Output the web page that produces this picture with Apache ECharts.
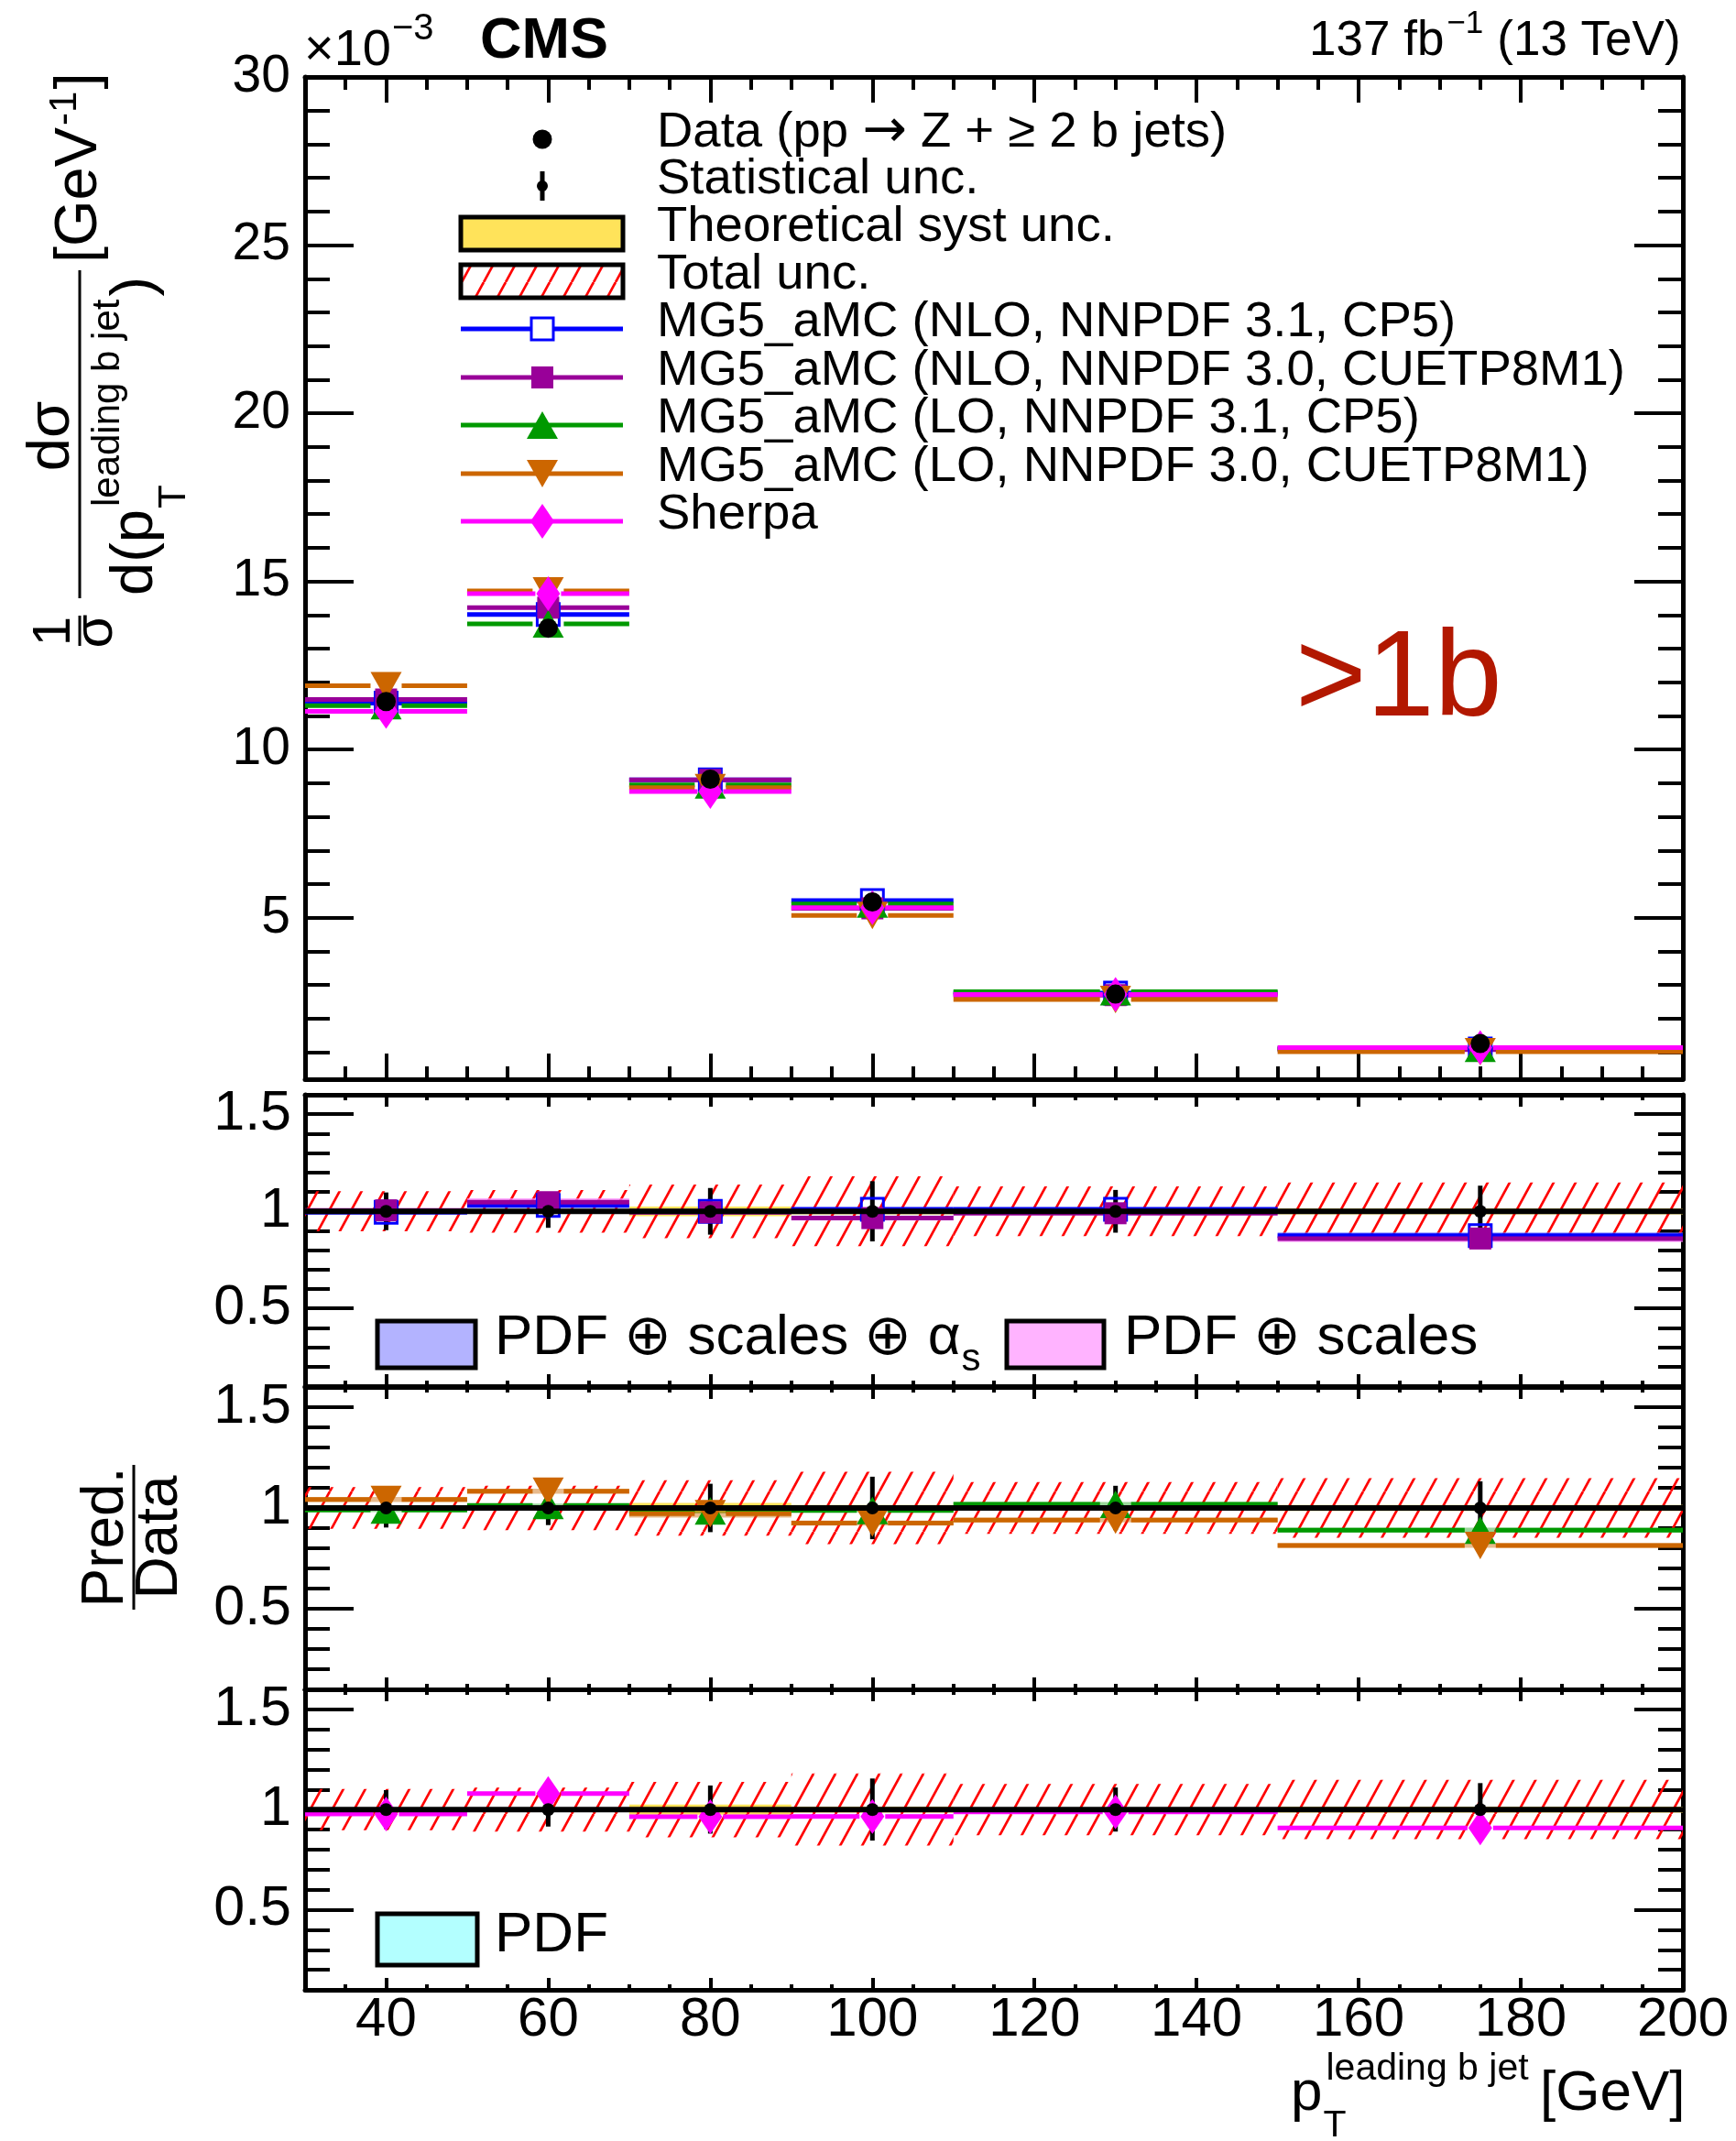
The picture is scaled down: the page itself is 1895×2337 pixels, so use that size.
<!DOCTYPE html>
<html>
<head>
<meta charset="utf-8">
<script src="https://cdn.jsdelivr.net/npm/echarts@6.0.0/dist/echarts.min.js"></script>
<style>
html, body { margin:0; padding:0; background:#ffffff; }
#chart { width:1895px; height:2337px; }
</style>
</head>
<body>
<div id="chart"></div>
<script>
// ================= DATA =================
const binEdges   = [30, 50, 70, 90, 110, 150, 200];
const binCenters = [40, 60, 80, 100, 130, 175];
const xTickValues  = [40, 60, 80, 100, 120, 140, 160, 180, 200];
const xMinorValues = [35, 45, 50, 55, 65, 70, 75, 85, 90, 95, 105, 110, 115, 125, 130, 135, 145, 150, 155, 165, 170, 175, 185, 190, 195];
const yTopTicks    = [5, 10, 15, 20, 25, 30];
const yTopMinor    = [1, 2, 3, 4, 6, 7, 8, 9, 11, 12, 13, 14, 16, 17, 18, 19, 21, 22, 23, 24, 26, 27, 28, 29];
const yRatioTicks  = [0.5, 1, 1.5];
const yRatioMinor  = [0.2, 0.3, 0.4, 0.6, 0.7, 0.8, 0.9, 1.1, 1.2, 1.3, 1.4];
const yTopRange    = [0.2, 30];
const yRatioRange  = [0.1, 1.6];

// normalized cross sections, units of 1e-3 GeV^-1
const dataXsec   = [11.43, 13.61, 9.12, 5.47, 2.73, 1.26];
const nlo31Xsec  = [11.38, 14.02, 9.10, 5.51, 2.76, 1.10];
const nlo30Xsec  = [11.49, 14.22, 9.10, 5.28, 2.70, 1.08];
const lo31Xsec   = [11.31, 13.74, 8.95, 5.41, 2.80, 1.12];
const lo30Xsec   = [11.90, 14.72, 8.87, 5.07, 2.57, 1.02];
const sherpaXsec = [11.14, 14.64, 8.75, 5.30, 2.72, 1.14];

// prediction / data
const dataRatio   = [1, 1, 1, 1, 1, 1];
const nlo31Ratio  = [0.995, 1.030, 1.000, 1.010, 1.010, 0.875];
const nlo30Ratio  = [1.005, 1.047, 0.995, 0.965, 0.990, 0.860];
const lo31Ratio   = [0.990, 1.012, 0.985, 0.988, 1.018, 0.890];
const lo30Ratio   = [1.042, 1.083, 0.972, 0.925, 0.940, 0.814];
const sherpaRatio = [0.978, 1.080, 0.964, 0.966, 0.988, 0.908];

// relative uncertainties of the data
const statUnc  = [0.097, 0.085, 0.120, 0.155, 0.110, 0.132];
const totalUnc = [0.103, 0.110, 0.138, 0.180, 0.128, 0.148];
const theoUnc  = [0.010, 0.010, 0.025, 0.015, 0.010, 0.015];

// theory band half widths on the ratio
const nlo31Band = [0.008, 0.012, 0.010, 0.010, 0.010, 0.018];
const nlo30Band = [0.008, 0.020, 0.010, 0.012, 0.010, 0.018];
const lo31Band  = [0.010, 0.010, 0.012, 0.010, 0.012, 0.012];
const lo30Band  = [0.012, 0.012, 0.020, 0.012, 0.012, 0.012];

// ================= STYLE / LAYOUT =================
const FONT = '"Liberation Sans", Arial, Helvetica, sans-serif';
const models = [
  {xs: nlo31Xsec,  r: nlo31Ratio,  band: nlo31Band, panel: 1, color: '#0000ff', bandColor: 'rgba(120,120,255,0.55)', symbol: 'rect', size: [24, 24], hollow: true, gap: 13, leg: 'hollowRect'},
  {xs: nlo30Xsec,  r: nlo30Ratio,  band: nlo30Band, panel: 1, color: '#990099', bandColor: 'rgba(255,140,255,0.75)', symbol: 'rect', size: [24, 24], gap: 13, leg: 'rect'},
  {xs: lo31Xsec,   r: lo31Ratio,   band: lo31Band,  panel: 2, color: '#009900', bandColor: 'rgba(0,153,0,0.40)', symbol: 'triangle', size: [34, 30], gap: 17, leg: 'triUp'},
  {xs: lo30Xsec,   r: lo30Ratio,   band: lo30Band,  panel: 2, color: '#cc6600', bandColor: 'rgba(204,102,0,0.45)', symbol: 'triangle', rotate: 180, size: [34, 30], gap: 17, leg: 'triDown'},
  {xs: sherpaXsec, r: sherpaRatio, band: null,      panel: 3, color: '#ff00ff', bandColor: null, symbol: 'diamond', size: [26, 38], gap: 14, leg: 'diamond'}
];
const legendLabels = [
  ['Data (pp', '\u2192', 'Z + \u2265 2 b jets)'],
  'Statistical unc.',
  'Theoretical syst unc.',
  'Total unc.',
  'MG5_aMC (NLO, NNPDF 3.1, CP5)',
  'MG5_aMC (NLO, NNPDF 3.0, CUETP8M1)',
  'MG5_aMC (LO, NNPDF 3.1, CP5)',
  'MG5_aMC (LO, NNPDF 3.0, CUETP8M1)',
  'Sherpa'
];

const grids = [
  {left: 333, top: 84,   width: 1504, height: 1094},
  {left: 333, top: 1195, width: 1504, height: 318},
  {left: 333, top: 1514, width: 1504, height: 330},
  {left: 333, top: 1844, width: 1504, height: 328}
];

function makeHatch() {
  const W = 24, H = 44;
  const cv = document.createElement('canvas');
  cv.width = W; cv.height = H;
  const ctx = cv.getContext('2d');
  ctx.strokeStyle = '#ff0000';
  ctx.lineWidth = 2.7;
  [-W, 0, W].forEach(d => { ctx.beginPath(); ctx.moveTo(d, H); ctx.lineTo(d + W, 0); ctx.stroke(); });
  return cv;
}
const hatchFill = {image: makeHatch(), repeat: 'repeat'};

function meas(text, fs, weight, fam) {
  if (!meas.ctx) meas.ctx = document.createElement('canvas').getContext('2d');
  meas.ctx.font = (weight || 'normal') + ' ' + fs + 'px ' + (fam || FONT);
  return meas.ctx.measureText(text).width;
}

// ================= AXES =================
const LINE = {show: true, onZero: false, lineStyle: {color: '#000', width: 5}};
const NOLINE = {show: false, onZero: false};
function tick(vals, len) {
  return {show: true, inside: true, length: len, customValues: vals, lineStyle: {color: '#000', width: 4}};
}
const xAxes = [], yAxes = [];
grids.forEach((gr, g) => {
  const isTop = g === 0, isBottom = g === 3;
  const xMaj = isTop ? 28 : 13, xMin = isTop ? 14 : 6;
  const range = isTop ? yTopRange : yRatioRange;
  const yMajV = isTop ? yTopTicks : yRatioTicks;
  const yMinV = isTop ? yTopMinor : yRatioMinor;
  const xBase = {type: 'value', gridIndex: g, min: binEdges[0], max: binEdges[binEdges.length - 1],
    splitLine: {show: false}, minorTick: {show: false}, minorSplitLine: {show: false}};
  const yBase = {type: 'value', gridIndex: g, min: range[0], max: range[1],
    splitLine: {show: false}, minorTick: {show: false}, minorSplitLine: {show: false}};
  xAxes.push(Object.assign({}, xBase, {position: 'bottom', axisLine: LINE, axisTick: tick(xTickValues, xMaj),
    axisLabel: isBottom ? {show: true, customValues: xTickValues, fontSize: 60, fontFamily: FONT, color: '#000', margin: 3, hideOverlap: false} : {show: false}}));
  xAxes.push(Object.assign({}, xBase, {position: 'bottom', axisLine: NOLINE, axisTick: tick(xMinorValues, xMin), axisLabel: {show: false}}));
  xAxes.push(Object.assign({}, xBase, {position: 'top', axisLine: LINE, axisTick: tick(xTickValues, xMaj), axisLabel: {show: false}}));
  xAxes.push(Object.assign({}, xBase, {position: 'top', axisLine: NOLINE, axisTick: tick(xMinorValues, xMin), axisLabel: {show: false}}));
  yAxes.push(Object.assign({}, yBase, {position: 'left', axisLine: LINE, axisTick: tick(yMajV, 53),
    axisLabel: {show: true, customValues: yMajV, fontSize: isTop ? 57 : 61, fontFamily: FONT, color: '#000', margin: isTop ? 16 : 15, hideOverlap: false}}));
  yAxes.push(Object.assign({}, yBase, {position: 'left', axisLine: NOLINE, axisTick: tick(yMinV, 27), axisLabel: {show: false}}));
  yAxes.push(Object.assign({}, yBase, {position: 'right', axisLine: LINE, axisTick: tick(yMajV, 53), axisLabel: {show: false}}));
  yAxes.push(Object.assign({}, yBase, {position: 'right', axisLine: NOLINE, axisTick: tick(yMinV, 27), axisLabel: {show: false}}));
});

// ================= SERIES =================
const AX = g => ({xAxisIndex: 4 * g, yAxisIndex: 4 * g});
const series = [];

function hSeg(g, vals, color, lw, gap) {
  return Object.assign({
    type: 'custom', silent: true, animation: false,
    data: binCenters.map((c, i) => [binEdges[i], binEdges[i + 1], c, vals[i]]),
    renderItem: (p, api) => {
      const a = api.coord([api.value(0), api.value(3)]);
      const b = api.coord([api.value(1), api.value(3)]);
      const m = api.coord([api.value(2), api.value(3)]);
      return {type: 'group', children: [
        {type: 'line', shape: {x1: a[0], y1: a[1], x2: m[0] - gap, y2: m[1]}, style: {stroke: color, lineWidth: lw}},
        {type: 'line', shape: {x1: m[0] + gap, y1: m[1], x2: b[0], y2: b[1]}, style: {stroke: color, lineWidth: lw}}
      ]};
    }
  }, AX(g));
}
function markerSeries(g, vals, m) {
  return Object.assign({
    type: 'scatter', silent: true, animation: false,
    symbol: m.symbol, symbolSize: m.size, symbolRotate: m.rotate || 0,
    data: binCenters.map((c, i) => [c, vals[i]]),
    itemStyle: m.hollow ? {color: 'rgba(0,0,0,0)', borderColor: m.color, borderWidth: 3, opacity: 1} : {color: m.color, opacity: 1},
    emphasis: {disabled: true}
  }, AX(g));
}
function bandSeries(g, centers, halves, fill) {
  return Object.assign({
    type: 'custom', silent: true, animation: false,
    data: binCenters.map((c, i) => [binEdges[i], binEdges[i + 1], centers[i], halves[i]]),
    renderItem: (p, api) => {
      const a = api.coord([api.value(0), api.value(2) + api.value(3)]);
      const b = api.coord([api.value(1), api.value(2) - api.value(3)]);
      return {type: 'rect', shape: {x: a[0], y: a[1], width: b[0] - a[0], height: b[1] - a[1]}, style: {fill: fill}};
    }
  }, AX(g));
}
function statBars(g) {
  return Object.assign({
    type: 'custom', silent: true, animation: false,
    data: binCenters.map((c, i) => [c, dataRatio[i], statUnc[i]]),
    renderItem: (p, api) => {
      const a = api.coord([api.value(0), api.value(1) + api.value(2)]);
      const b = api.coord([api.value(0), api.value(1) - api.value(2)]);
      return {type: 'line', shape: {x1: a[0], y1: a[1], x2: b[0], y2: b[1]}, style: {stroke: '#000', lineWidth: 5}};
    }
  }, AX(g));
}

// top panel
models.forEach(m => {
  series.push(hSeg(0, m.xs, m.color, 5, m.gap));
  series.push(markerSeries(0, m.xs, m));
});
series.push(Object.assign({type: 'scatter', silent: true, animation: false, symbol: 'circle', symbolSize: 21,
  data: binCenters.map((c, i) => [c, dataXsec[i]]), itemStyle: {color: '#000', opacity: 1}, emphasis: {disabled: true}}, AX(0)));

// ratio panels
[1, 2, 3].forEach(g => {
  series.push(bandSeries(g, dataRatio, theoUnc, '#ffe35a'));
  series.push(bandSeries(g, dataRatio, totalUnc, hatchFill));
  const pm = models.filter(m => m.panel === g);
  pm.forEach(m => { if (m.band) series.push(bandSeries(g, m.r, m.band, m.bandColor)); });
  pm.forEach(m => {
    series.push(hSeg(g, m.r, m.color, 5, m.gap));
    series.push(markerSeries(g, m.r, m));
  });
  series.push(Object.assign({type: 'line', silent: true, animation: false, showSymbol: false, symbol: 'none',
    data: [[binEdges[0], dataRatio[0]], [binEdges[binEdges.length - 1], dataRatio[dataRatio.length - 1]]],
    lineStyle: {color: '#000', width: 6}}, AX(g)));
  series.push(statBars(g));
  series.push(Object.assign({type: 'scatter', silent: true, animation: false, symbol: 'circle', symbolSize: 14,
    data: binCenters.map((c, i) => [c, dataRatio[i]]), itemStyle: {color: '#000', opacity: 1}, emphasis: {disabled: true}}, AX(g)));
});

// ================= GRAPHICS (texts, legends) =================
function T(x, base, text, fs, o) {
  o = o || {};
  const al = o.align || 'left';
  return {type: 'text', x: x, y: base - 0.3465 * fs, z: 100, silent: true,
    style: {text: text, fontSize: fs, fontFamily: o.family || FONT, fontWeight: o.weight || 'normal', fill: o.color || '#000',
      align: al, verticalAlign: 'middle', textAlign: al, textVerticalAlign: 'middle'}};
}
function L(x1, y1, x2, y2, color, lw) {
  return {type: 'line', z: 100, silent: true, shape: {x1, y1, x2, y2}, style: {stroke: color, lineWidth: lw}};
}
function symG(kind, cx, cy, color, w, h) {
  if (kind === 'circle') return {type: 'circle', z: 101, silent: true, shape: {cx, cy, r: w / 2}, style: {fill: color}};
  if (kind === 'rect') return {type: 'rect', z: 101, silent: true, shape: {x: cx - w / 2, y: cy - h / 2, width: w, height: h}, style: {fill: color}};
  if (kind === 'hollowRect') return {type: 'rect', z: 101, silent: true, shape: {x: cx - w / 2, y: cy - h / 2, width: w, height: h}, style: {fill: '#fff', stroke: color, lineWidth: 3}};
  if (kind === 'triUp') return {type: 'polygon', z: 101, silent: true, shape: {points: [[cx - w / 2, cy + h / 2], [cx + w / 2, cy + h / 2], [cx, cy - h / 2]]}, style: {fill: color}};
  if (kind === 'triDown') return {type: 'polygon', z: 101, silent: true, shape: {points: [[cx - w / 2, cy - h / 2], [cx + w / 2, cy - h / 2], [cx, cy + h / 2]]}, style: {fill: color}};
  return {type: 'polygon', z: 101, silent: true, shape: {points: [[cx, cy - h / 2], [cx + w / 2, cy], [cx, cy + h / 2], [cx - w / 2, cy]]}, style: {fill: color}};
}

const G = [];
// header
G.push(T(332, 75, '\u00d710', 56));
G.push(T(332 + meas('\u00d710', 56) + 1, 46, '\u22123', 40));
G.push(T(524, 67, 'CMS', 63, {weight: 'bold'}));
{
  const x1 = 1429, w1 = meas('137 fb', 53);
  const xs = x1 + w1 + 3, ws = meas('\u22121', 35);
  G.push(T(x1, 64, '137 fb', 53));
  G.push(T(xs, 38, '\u22121', 35));
  G.push(T(xs + ws + 15, 64, '(13 TeV)', 53));
}
G.push(T(1414, 790, '>1b', 133, {color: '#b21800'}));

// top legend
const LFS = 54.5;
const rowsY = [152, 203, 255, 307, 359, 412, 464, 517, 569];
const LX0 = 503, LX1 = 680, LXC = 592, LTX = 717;
legendLabels.forEach((lab, i) => {
  const base = rowsY[i] - 7 + 0.3465 * LFS;
  if (Array.isArray(lab)) {
    const w0 = meas(lab[0] + ' ', LFS);
    G.push(T(LTX, base, lab[0], LFS));
    G.push(T(LTX + w0, base + 1, lab[1], 58, {family: '"DejaVu Sans", sans-serif'}));
    const w1 = meas(lab[1], 58, 'normal', '"DejaVu Sans", sans-serif');
    G.push(T(LTX + w0 + w1 + meas(' ', LFS), base, lab[2], LFS));
  } else {
    G.push(T(LTX, base, lab, LFS));
  }
});
G.push(symG('circle', LXC, rowsY[0], '#000', 21, 21));
G.push(L(LXC, rowsY[1] - 16, LXC, rowsY[1] + 16, '#000', 5));
G.push(symG('circle', LXC, rowsY[1], '#000', 12, 12));
G.push({type: 'rect', z: 100, silent: true, shape: {x: LX0, y: rowsY[2] - 18, width: LX1 - LX0, height: 36}, style: {fill: '#ffe35a', stroke: '#000', lineWidth: 5}});
G.push({type: 'rect', z: 100, silent: true, shape: {x: LX0, y: rowsY[3] - 18, width: LX1 - LX0, height: 36}, style: {fill: hatchFill, stroke: '#000', lineWidth: 5}});
models.forEach((m, k) => {
  const y = rowsY[4 + k];
  G.push(L(LX0, y, LX1, y, m.color, 5));
  G.push(symG(m.leg, LXC, y, m.color, m.size[0], m.size[1]));
});

// ratio legends
const RFS = 62;
G.push({type: 'rect', z: 100, silent: true, shape: {x: 412, y: 1442, width: 107, height: 51}, style: {fill: '#b3b3ff', stroke: '#000', lineWidth: 5}});
{
  const s1 = 'PDF \u2295 scales \u2295 \u03b1';
  G.push(T(540, 1482, s1, RFS));
  G.push(T(540 + meas(s1, RFS) + 1, 1499, 's', 42));
}
G.push({type: 'rect', z: 100, silent: true, shape: {x: 1099, y: 1442, width: 106, height: 51}, style: {fill: '#ffb3ff', stroke: '#000', lineWidth: 5}});
G.push(T(1227, 1482, 'PDF \u2295 scales', RFS));
G.push({type: 'rect', z: 100, silent: true, shape: {x: 412, y: 2089, width: 109, height: 56}, style: {fill: '#b3ffff', stroke: '#000', lineWidth: 5}});
G.push(T(540, 2134, 'PDF', RFS));

// y title (top panel), rotated
{
  const ch = [];
  const MF = 65, SF = 42;
  ch.push(T(16, 80, '1', 58, {align: 'center'}));
  ch.push(L(0, 87, 33, 87, '#000', 3));
  ch.push(T(16, 126, '\u03c3', 60, {align: 'center'}));
  ch.push(T(229, 80, 'd\u03c3', MF, {align: 'center'}));
  ch.push(L(52, 87, 410, 87, '#000', 3));
  const x0 = 55, wdp = meas('d(p', MF);
  ch.push(T(x0, 171, 'd(p', MF));
  ch.push(T(x0 + wdp + 1, 205, 'T', SF));
  ch.push(T(x0 + wdp + 3, 133, 'leading b jet', SF));
  ch.push(T(x0 + wdp + 6 + meas('leading b jet', SF), 171, ')', MF));
  const gx = 418, wg = meas('[GeV', MF);
  ch.push(T(gx, 110, '[GeV', MF));
  ch.push(T(gx + wg + 2, 86, '-1', SF));
  ch.push(T(gx + wg + 4 + meas('-1', SF), 110, ']', MF));
  G.push({type: 'group', x: 0, y: 705, rotation: Math.PI / 2, children: ch});
}
// y title (ratio), rotated
G.push({type: 'group', x: 0, y: 1678, rotation: Math.PI / 2, children: [
  T(0, 139, 'Pred.', 64, {align: 'center'}),
  L(-79, 146, 79, 146, '#000', 3),
  T(0, 198, 'Data', 64, {align: 'center'})
]});
// x title
{
  const wp = meas('p', 62);
  G.push(T(1409, 2307, 'p', 62));
  G.push(T(1409 + wp + 1, 2335, 'T', 41));
  G.push(T(1409 + wp + 4, 2273, 'leading b jet', 41));
  G.push(T(1681, 2307, '[GeV]', 62));
}

// ================= OPTION =================
const chart = echarts.init(document.getElementById('chart'), null, {renderer: 'canvas', width: 1895, height: 2337});
chart.setOption({
  backgroundColor: '#ffffff',
  animation: false,
  grid: grids.map(g => Object.assign({containLabel: false, outerBoundsMode: 'none'}, g)),
  xAxis: xAxes,
  yAxis: yAxes,
  series: series,
  graphic: {elements: G}
});
</script>
</body>
</html>
